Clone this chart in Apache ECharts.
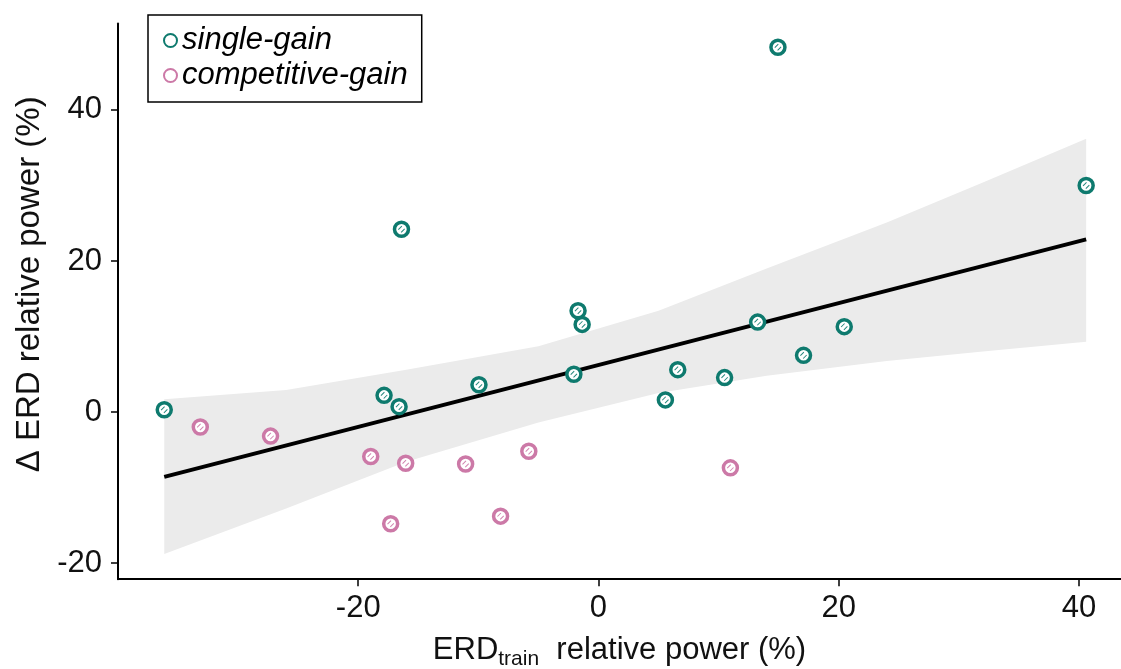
<!DOCTYPE html>
<html>
<head>
<meta charset="utf-8">
<script src="https://cdn.jsdelivr.net/npm/echarts@6/dist/echarts.min.js"></script>
<style>
    html, body { margin: 0; padding: 0; background: #fff; }
    #chart { width: 1121px; height: 669px; }
</style>
</head>
<body>
<div id="chart"></div>
<script>
// tick labels
const xTicks = [-20, 0, 20, 40];
const yTicks = [-20, 0, 20, 40];

// [ERD_train, delta ERD]
const singleGain = [
    [-36.15, 0.3], [-17.85, 2.2], [-16.6, 0.7], [-16.4, 24.2], [-9.95, 3.6],
    [-2.05, 5.0], [-1.7, 13.4], [-1.36, 11.6], [5.57, 1.6], [6.6, 5.6],
    [10.5, 4.55], [13.25, 11.9], [14.94, 48.3], [17.07, 7.5], [20.46, 11.3],
    [40.6, 30.0]
];
const competitiveGain = [
    [-33.15, -2.0], [-27.3, -3.2], [-18.96, -5.9], [-17.3, -14.8], [-16.05, -6.8],
    [-11.06, -6.9], [-8.15, -13.8], [-5.8, -5.2], [10.98, -7.4]
];

// fitted line end points
const fitLine = [[-36.15, -8.6], [40.6, 22.85]];

// confidence band edges
const bandX = [-36.15, -26, -16, -5, 5, 14, 24, 32, 40.6];
const bandUpper = [1.7, 2.9, 5.6, 8.7, 13.4, 19.0, 25.1, 30.4, 36.2];
const bandLower = [-18.8, -12.8, -6.6, -1.4, 2.5, 4.8, 6.75, 8.0, 9.3];

const teal = "#0e7a6e";
const pink = "#cc79a7";
const font = "Liberation Sans";
// small "//" hatch drawn inside each marker
const hatch = "path://M0,5 L5,0 L6,1 L1,6 Z M4,9 L9,4 L10,5 L5,10 Z";

const chart = echarts.init(document.getElementById("chart"));

function renderBand(params, api) {
    const pts = [];
    bandX.forEach((x, i) => pts.push(api.coord([x, bandUpper[i]])));
    for (let i = bandX.length - 1; i >= 0; i--) {
        pts.push(api.coord([bandX[i], bandLower[i]]));
    }
    return {
        type: "polygon",
        shape: { points: pts },
        style: { fill: "#ebebeb" }
    };
}

function hatchSeries(data, color) {
    return {
        type: "scatter",
        data: data,
        symbol: hatch,
        symbolSize: 7,
        itemStyle: { color: color, opacity: 0.9 },
        silent: true,
        z: 4
    };
}

const axisCommon = {
    type: "value",
    splitLine: { show: false },
    axisLine: { onZero: false, lineStyle: { color: "#000", width: 2 } }
};

chart.setOption({
    animation: false,
    textStyle: { fontFamily: font },
    grid: { left: 118, right: 0, top: 23.5, bottom: 89.8, containLabel: false, outerBoundsMode: "none" },
    legend: {
        left: 148,
        top: 15,
        orient: "vertical",
        data: ["single-gain", "competitive-gain"],
        itemWidth: 13,
        itemHeight: 13,
        itemGap: 0,
        padding: [8, 14, 9, 15],
        borderColor: "#000",
        borderWidth: 1.5,
        textStyle: { fontSize: 31, lineHeight: 35, fontStyle: "italic", color: "#000", fontFamily: font }
    },
    xAxis: Object.assign({}, axisCommon, {
        min: -40,
        max: 43.5,
        axisTick: { length: 7, lineStyle: { color: "#000", width: 1.5 }, customValues: xTicks },
        axisLabel: { fontSize: 31, color: "#111", margin: 14, customValues: xTicks },
        name: "{a|ERD}{s|train}{a|  relative power (%)}",
        nameLocation: "middle",
        nameGap: 52,
        nameTextStyle: {
            rich: {
                a: { fontSize: 31, color: "#111", fontFamily: font },
                s: { fontSize: 21, color: "#111", fontFamily: font, padding: [18, 0, 0, 0] }
            }
        }
    }),
    yAxis: Object.assign({}, axisCommon, {
        min: -22.15,
        max: 51.45,
        axisTick: { length: 7, lineStyle: { color: "#000", width: 1.5 }, customValues: yTicks },
        axisLabel: { fontSize: 31, color: "#111", margin: 16, customValues: yTicks },
        name: "\u0394 ERD relative power (%)",
        nameLocation: "middle",
        nameGap: 70,
        nameRotate: 90,
        nameTextStyle: { fontSize: 33, color: "#111", padding: [0, 0, 0, 34] }
    }),
    series: [
        {
            type: "custom",
            renderItem: renderBand,
            data: [0],
            silent: true,
            z: 1
        },
        {
            type: "line",
            data: fitLine,
            symbol: "none",
            lineStyle: { color: "#000", width: 4 },
            silent: true,
            z: 2
        },
        {
            name: "single-gain",
            type: "scatter",
            data: singleGain,
            symbol: "circle",
            symbolSize: 14,
            itemStyle: { color: "#fff", borderColor: teal, borderWidth: 3.5, opacity: 1 },
            z: 3
        },
        {
            name: "competitive-gain",
            type: "scatter",
            data: competitiveGain,
            symbol: "circle",
            symbolSize: 14,
            itemStyle: { color: "#fff", borderColor: pink, borderWidth: 3.5, opacity: 1 },
            z: 3
        },
        hatchSeries(singleGain, teal),
        hatchSeries(competitiveGain, pink)
    ]
});
</script>
</body>
</html>
